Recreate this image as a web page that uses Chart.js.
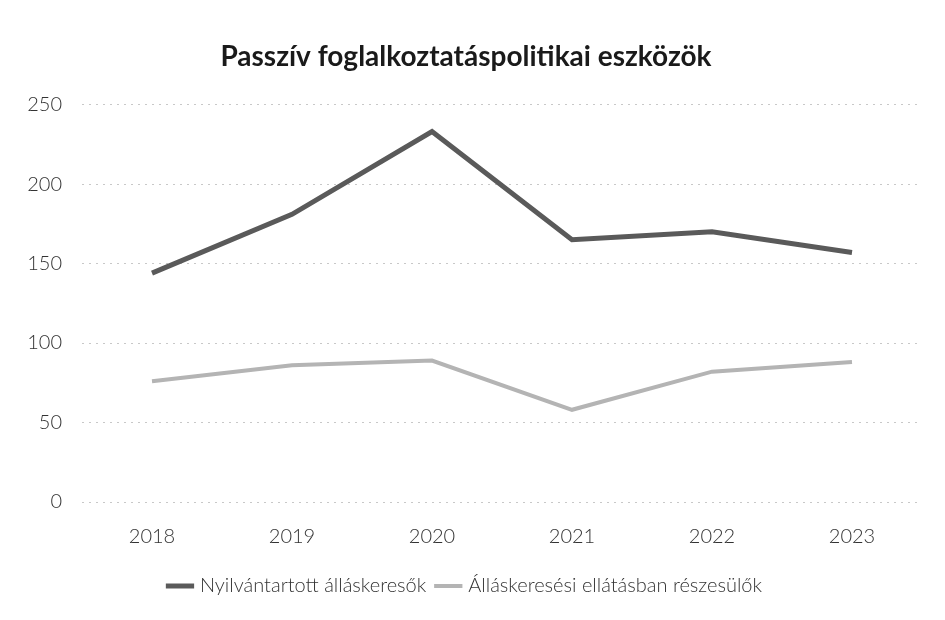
<!DOCTYPE html>
<html>
<head>
<meta charset="utf-8">
<script src="https://cdn.jsdelivr.net/npm/chart.js@4"></script>
<style>
  html, body { margin: 0; padding: 0; background: #fff; }
  #wrap { width: 945px; height: 620px; }
</style>
</head>
<body>
<div id="wrap"><canvas id="chart" width="945" height="620"></canvas></div>
<script>
const years = ['2018', '2019', '2020', '2021', '2022', '2023'];
const registeredJobseekers = [144, 181, 233, 165, 170, 157];
const benefitRecipients = [76, 86, 89, 58, 82, 88];
const yTicks = [0, 50, 100, 150, 200, 250];

const ctx = document.getElementById('chart').getContext('2d');

new Chart(ctx, {
  type: 'line',
  data: {
    labels: years,
    datasets: [
      {
        label: 'Nyilvántartott álláskeresők',
        data: registeredJobseekers,
        borderColor: '#5a5a5a',
        backgroundColor: '#5a5a5a',
        borderWidth: 5,
        pointRadius: 0,
        tension: 0
      },
      {
        label: 'Álláskeresési ellátásban részesülők',
        data: benefitRecipients,
        borderColor: '#b4b4b4',
        backgroundColor: '#b4b4b4',
        borderWidth: 4,
        pointRadius: 0,
        tension: 0
      }
    ]
  },
  options: {
    responsive: false,
    animation: false,
    layout: { padding: { left: 10, right: 23, top: 40, bottom: 14 } },
    plugins: {
      title: {
        display: true,
        text: 'Passzív foglalkoztatáspolitikai eszközök',
        color: '#1a1a1a',
        font: { family: 'Lato', size: 28, weight: 'bold' },
        padding: { top: 0, bottom: 31 }
      },
      legend: {
        position: 'bottom',
        labels: {
          usePointStyle: true,
          pointStyle: 'line',
          boxWidth: 50,
          padding: 12,
          color: '#333',
          font: { family: 'Lato', size: 20, weight: '300' }
        }
      },
      tooltip: { enabled: false }
    },
    scales: {
      x: {
        offset: true,
        grid: { display: false },
        border: { display: false },
        ticks: {
          color: '#333',
          padding: 15,
          font: { family: 'Lato', size: 20, weight: '300' }
        }
      },
      y: {
        min: 0,
        max: 250,
        afterFit: function(scale) { scale.width = 72; },
        afterBuildTicks: function(scale) {
          scale.ticks = yTicks.map(v => ({ value: v }));
        },
        grid: {
          color: '#c8c8c8',
          lineWidth: 1,
          drawTicks: false
        },
        border: { display: false, dash: [2, 5] },
        ticks: {
          color: '#333',
          padding: 20,
          font: { family: 'Lato', size: 20, weight: '300' }
        }
      }
    }
  }
});
</script>
</body>
</html>
